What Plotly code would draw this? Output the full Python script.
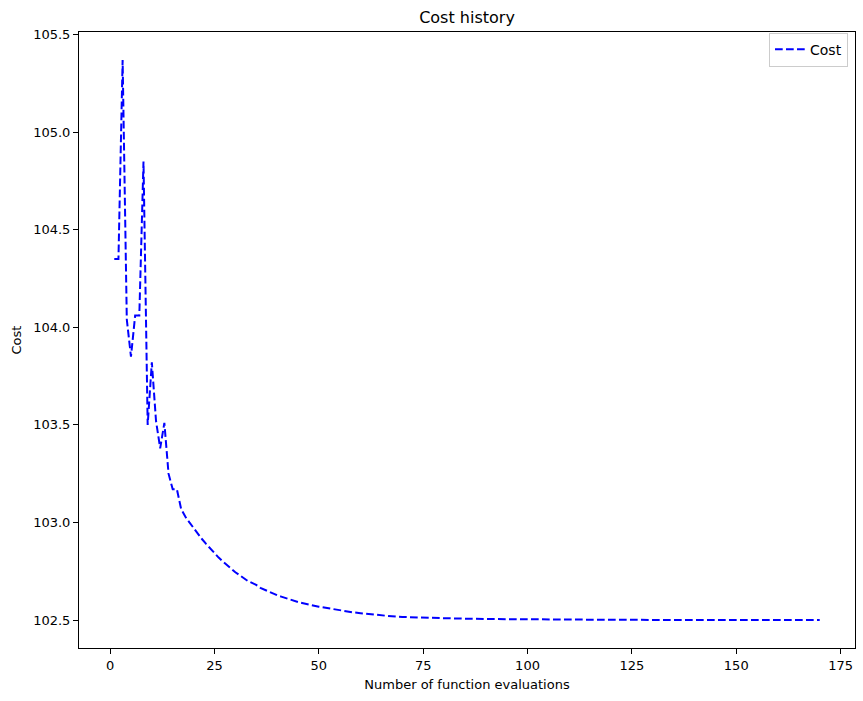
import plotly.graph_objects as go

# Number of function evaluations and cost values
evals = [1, 2, 3, 4, 5, 6, 7, 8, 9, 10, 11, 12, 13, 14, 15, 16,
         17, 18, 19, 20, 21, 22, 23, 24, 25, 26, 27, 28, 29, 30,
         31, 32, 33, 34, 35, 36, 37, 38, 39, 40, 41, 42, 43, 44, 45,
         46, 47, 48, 49, 50, 52, 54, 56, 58, 60, 63, 66, 70, 75, 80,
         90, 100, 120, 140, 170]
cost = [104.35, 104.35, 105.37, 104.04, 103.85, 104.06, 104.06, 104.85,
        103.50, 103.82, 103.52, 103.38, 103.51, 103.25, 103.17, 103.17,
        103.07, 103.03, 103.00, 102.97, 102.94, 102.915, 102.89, 102.865,
        102.84, 102.82, 102.80, 102.78, 102.76, 102.745, 102.73, 102.715,
        102.70, 102.69, 102.68, 102.665, 102.655, 102.645, 102.635, 102.627,
        102.62, 102.612, 102.605, 102.598, 102.592, 102.587, 102.582, 102.577,
        102.572, 102.568, 102.561, 102.553, 102.546, 102.54, 102.535, 102.528,
        102.522, 102.516, 102.512, 102.509, 102.505, 102.503, 102.501, 102.500,
        102.500]

x_ticks = [0, 25, 50, 75, 100, 125, 150, 175]
y_ticks = [102.5, 103.0, 103.5, 104.0, 104.5, 105.0, 105.5]

FONT = "DejaVu Sans"

fig = go.Figure()
fig.add_trace(go.Scatter(
    x=evals, y=cost, mode="lines", name="Cost",
    line=dict(color="#0000ff", width=2, dash="7.7px,3.3px"),
))

xmin, xmax = min(evals), max(evals)
xpad = (xmax - xmin) * 0.05
ymin, ymax = min(cost), max(cost)
ypad = (ymax - ymin) * 0.05

axis_common = dict(
    showline=True, linecolor="black", linewidth=1, mirror=True,
    ticks="outside", ticklen=5, tickwidth=1, tickcolor="black",
    showgrid=False, zeroline=False,
    tickfont=dict(family=FONT, size=13, color="black"),
)

fig.update_xaxes(
    range=[xmin - xpad, xmax + xpad], tickvals=x_ticks,
    title=dict(text="Number of function evaluations",
               font=dict(family=FONT, size=13, color="black"), standoff=8),
    **axis_common,
)
fig.update_yaxes(
    range=[ymin - ypad, ymax + ypad], tickvals=y_ticks, tickformat=".1f",
    title=dict(text="Cost", font=dict(family=FONT, size=13, color="black"), standoff=8),
    **axis_common,
)

fig.update_layout(
    width=863, height=701,
    margin=dict(l=79, r=8, t=32, b=53),
    paper_bgcolor="white", plot_bgcolor="white",
    font=dict(family=FONT, size=13, color="black"),
    title=dict(text="Cost history", x=0.5, xref="paper", xanchor="center",
               y=1 - 17 / 701, yref="container", yanchor="middle",
               font=dict(family=FONT, size=16, color="black")),
    showlegend=True,
    legend=dict(x=0.991, y=0.999, xanchor="right", yanchor="top",
                bgcolor="rgba(255,255,255,0.8)", bordercolor="#cccccc", borderwidth=1,
                font=dict(family=FONT, size=14, color="black"),
                itemwidth=30),
)

fig.write_html("out.html")
